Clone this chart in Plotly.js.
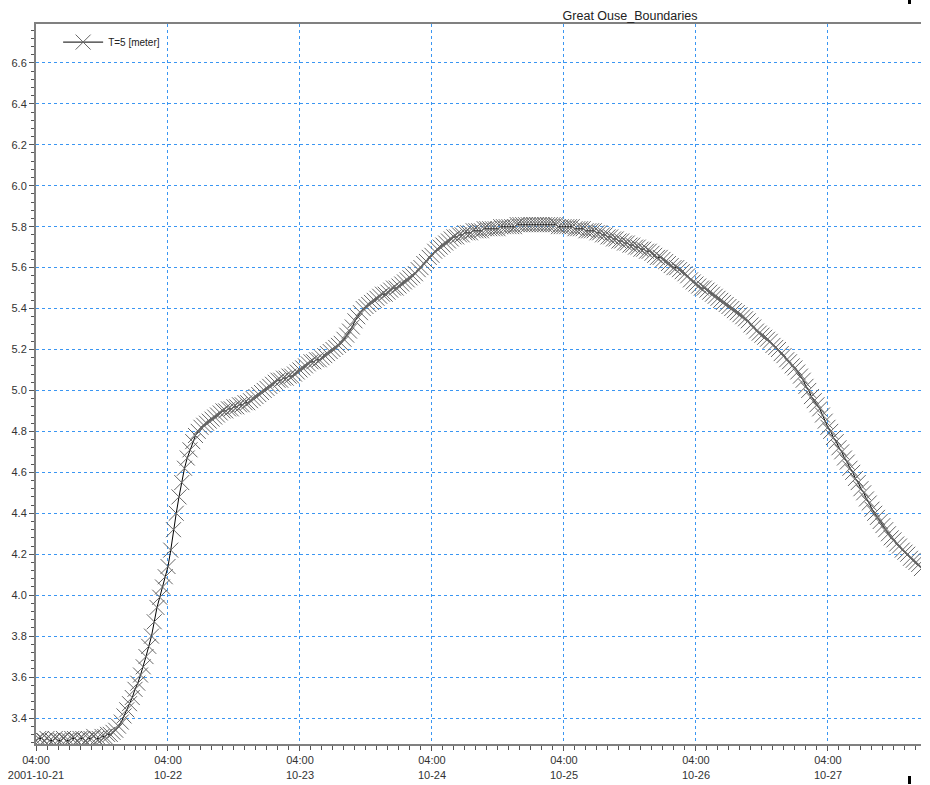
<!DOCTYPE html>
<html>
<head>
<meta charset="utf-8">
<script src="https://cdn.plot.ly/plotly-3.0.1.min.js"></script>
<style>html,body{margin:0;padding:0;background:#fff;}#chart{width:930px;height:785px;}</style>
</head>
<body>
<div id="chart"></div>
<script>
// Sampling of the series (half-hourly), starting 2001-10-21 04:00
const startTime = '2001-10-21T04:00:00';
const stepMinutes = 30;
const seriesName = 'T=5 [meter]';
const chartTitle = 'Great Ouse_Boundaries';

// Water level [m], one value per half hour
const levels = [
  3.29,3.30,3.30,3.29,3.30,3.29,3.29,3.30,3.29,3.29,3.30,3.29,
  3.29,3.30,3.30,3.29,3.30,3.30,3.29,3.30,3.30,3.31,3.30,3.30,
  3.31,3.31,3.32,3.32,3.33,3.34,3.36,3.38,3.41,3.44,3.47,3.50,
  3.54,3.57,3.61,3.65,3.70,3.75,3.80,3.87,3.94,3.99,4.04,4.09,
  4.14,4.22,4.32,4.40,4.48,4.55,4.62,4.67,4.71,4.75,4.78,4.80,
  4.82,4.83,4.84,4.85,4.86,4.87,4.88,4.89,4.90,4.90,4.91,4.91,
  4.92,4.92,4.93,4.93,4.94,4.94,4.95,4.96,4.97,4.98,4.99,5.00,
  5.01,5.02,5.03,5.04,5.05,5.05,5.06,5.06,5.07,5.07,5.08,5.09,
  5.10,5.11,5.12,5.13,5.14,5.14,5.15,5.15,5.16,5.17,5.18,5.19,
  5.20,5.21,5.22,5.23,5.25,5.27,5.29,5.31,5.34,5.36,5.38,5.40,
  5.41,5.42,5.43,5.44,5.45,5.46,5.47,5.47,5.48,5.49,5.50,5.50,
  5.51,5.52,5.53,5.54,5.55,5.56,5.57,5.59,5.60,5.62,5.63,5.65,
  5.66,5.68,5.69,5.70,5.71,5.72,5.73,5.74,5.75,5.75,5.76,5.76,
  5.77,5.77,5.77,5.78,5.78,5.78,5.78,5.79,5.79,5.79,5.79,5.79,
  5.79,5.80,5.80,5.80,5.80,5.80,5.80,5.81,5.81,5.81,5.81,5.81,
  5.81,5.81,5.81,5.81,5.81,5.81,5.81,5.81,5.81,5.81,5.80,5.80,
  5.80,5.80,5.80,5.80,5.79,5.79,5.79,5.79,5.78,5.78,5.78,5.78,
  5.77,5.77,5.76,5.76,5.75,5.75,5.74,5.74,5.73,5.73,5.72,5.72,
  5.71,5.71,5.70,5.70,5.69,5.69,5.68,5.68,5.67,5.66,5.65,5.65,
  5.64,5.63,5.62,5.61,5.60,5.60,5.59,5.58,5.57,5.56,5.54,5.53,
  5.52,5.51,5.50,5.50,5.49,5.48,5.47,5.46,5.45,5.44,5.43,5.42,
  5.41,5.40,5.39,5.38,5.37,5.36,5.35,5.34,5.32,5.31,5.29,5.28,
  5.27,5.26,5.25,5.24,5.22,5.21,5.20,5.18,5.17,5.15,5.14,5.12,
  5.11,5.09,5.07,5.05,5.02,5.00,4.97,4.95,4.93,4.91,4.88,4.85,
  4.82,4.80,4.77,4.75,4.72,4.70,4.67,4.65,4.62,4.60,4.57,4.55,
  4.52,4.50,4.47,4.45,4.42,4.40,4.38,4.36,4.34,4.32,4.30,4.28,
  4.27,4.25,4.24,4.22,4.21,4.20,4.18,4.17,4.16,4.15,4.13
];

// X-axis tick positions and labels
const tickTimes = ['2001-10-21 04:00','2001-10-22 04:00','2001-10-23 04:00','2001-10-24 04:00',
                   '2001-10-25 04:00','2001-10-26 04:00','2001-10-27 04:00'];
const tickLabels = ['04:00<br>2001-10-21','04:00<br>10-22','04:00<br>10-23','04:00<br>10-24',
                    '04:00<br>10-25','04:00<br>10-26','04:00<br>10-27'];
const xRange = ['2001-10-21 04:00','2001-10-27 20:55'];
const yRange = [3.273, 6.79];

function pad(n){return (n<10?'0':'')+n;}
const t0 = new Date(startTime + 'Z').getTime();
const times = levels.map((_, i) => {
  const d = new Date(t0 + i * stepMinutes * 60000);
  return d.getUTCFullYear()+'-'+pad(d.getUTCMonth()+1)+'-'+pad(d.getUTCDate())+' '+pad(d.getUTCHours())+':'+pad(d.getUTCMinutes());
});

const gridColor = '#3a96f2';
const font = {family: 'Liberation Sans, Arial, sans-serif', size: 11, color: '#333'};

const trace = {
  type: 'scatter',
  mode: 'lines+markers',
  x: times,
  y: levels,
  name: seriesName,
  line: {color: '#000', width: 1},
  marker: {symbol: 'x-thin', size: 15, color: '#666', line: {color: '#666', width: 1}},
  hoverinfo: 'x+y'
};

const layout = {
  width: 930,
  height: 785,
  margin: {l: 36, r: 9, t: 24, b: 41, pad: 0},
  paper_bgcolor: '#fff',
  plot_bgcolor: '#fff',
  font: font,
  title: {
    text: chartTitle,
    font: {family: 'Liberation Sans, Arial, sans-serif', size: 12.5, color: '#222'},
    x: 630/930, xanchor: 'center', xref: 'container',
    y: 1 - 16/785, yanchor: 'middle', yref: 'container'
  },
  showlegend: true,
  legend: {
    x: 0.025, y: 0.995, xanchor: 'left', yanchor: 'top',
    bgcolor: 'rgba(255,255,255,0)', borderwidth: 0,
    font: {family: 'Liberation Sans, Arial, sans-serif', size: 10, color: '#222'},
    itemwidth: 40
  },
  xaxis: {
    type: 'date',
    range: xRange,
    tickmode: 'array',
    tickvals: tickTimes,
    ticktext: tickLabels,
    ticks: 'outside', ticklen: 5, tickcolor: '#555', tickwidth: 1,
    showline: true, linecolor: '#808080', linewidth: 2, mirror: true,
    showgrid: true, gridcolor: gridColor, gridwidth: 1, griddash: 'dot',
    zeroline: false,
    tickfont: font,
    minor: {dtick: 7200000, tick0: '2001-10-21 04:00', ticks: 'outside', ticklen: 4, tickcolor: '#555', showgrid: false}
  },
  yaxis: {
    range: yRange,
    dtick: 0.2, tick0: 0,
    tickformat: '.1f',
    ticks: 'outside', ticklen: 5, tickcolor: '#555', tickwidth: 1,
    showline: true, linecolor: '#808080', linewidth: 2,
    showgrid: true, gridcolor: gridColor, gridwidth: 1, griddash: 'dot',
    zeroline: false,
    tickfont: font,
    minor: {dtick: 0.04, tick0: 0, ticks: 'outside', ticklen: 3, tickcolor: '#555', showgrid: false}
  },
  shapes: [
    {type: 'rect', xref: 'paper', yref: 'paper', x0: (908-36)/885, x1: (911-36)/885, y0: 1 + 24/720, y1: 1 + 20/720,
     fillcolor: '#000', line: {width: 0}},
    {type: 'rect', xref: 'paper', yref: 'paper', x0: (908-36)/885, x1: (911-36)/885, y0: -(776-744)/720, y1: -(784-744)/720,
     fillcolor: '#000', line: {width: 0}}
  ]
};

Plotly.newPlot('chart', [trace], layout, {displayModeBar: false, staticPlot: true});
</script>
</body>
</html>
